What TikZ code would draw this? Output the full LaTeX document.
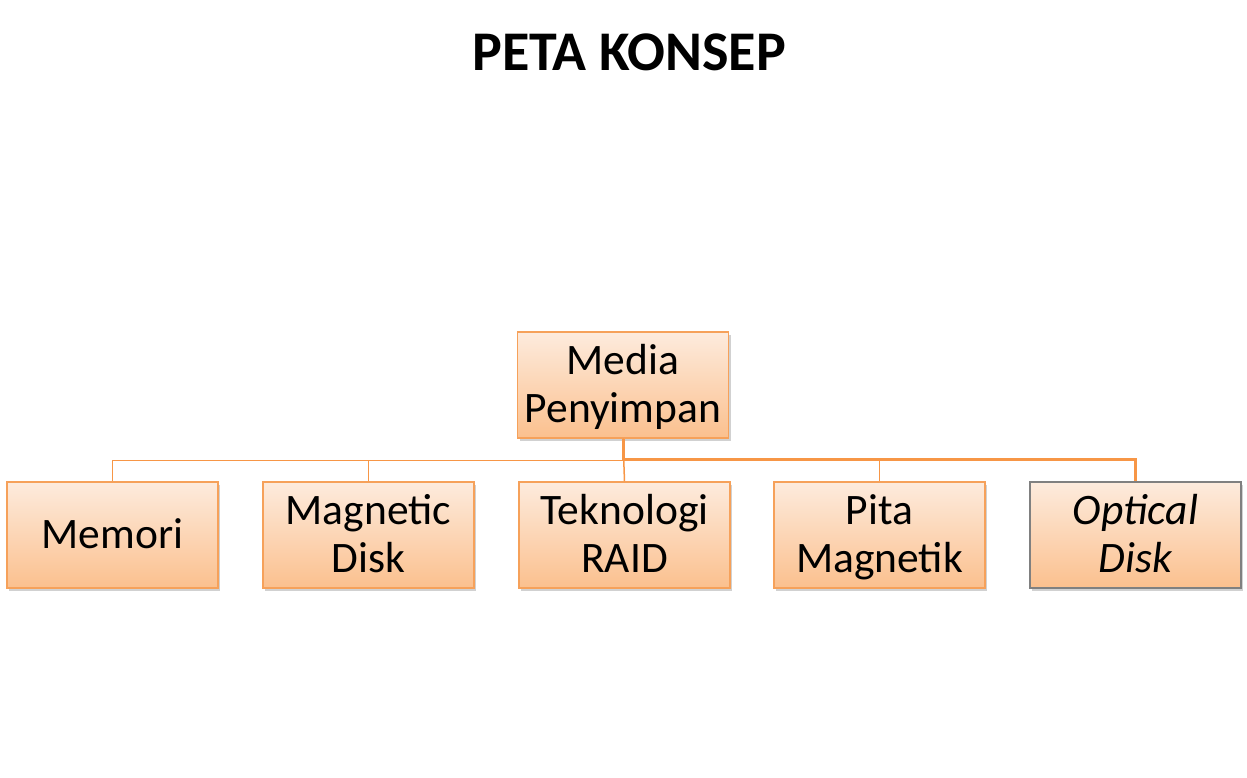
\documentclass[tikz,border=0pt]{standalone}
\usepackage{fontspec}
\setmainfont{Carlito}
\usetikzlibrary{shadows}
\definecolor{orng}{HTML}{F79646}
\definecolor{boxtop}{HTML}{FDEBDD}
\definecolor{boxbot}{HTML}{FBC08E}
\definecolor{edgeorng}{HTML}{F6A15A}
\newcommand\lstr{\rule[-10.5pt]{0pt}{48pt}}
\tikzset{
  concept/.style={draw=edgeorng, line width=1.2pt, top color=boxtop, bottom color=boxbot,
    minimum width=211pt, minimum height=106pt, align=center, inner sep=0pt,
    font=\fontsize{43.5}{48}\selectfont,
    drop shadow={shadow xshift=2pt, shadow yshift=-3pt, opacity=0.3, fill=black!60}},
  link/.style={draw=orng, line width=1.5pt},
  thicklink/.style={draw=orng, line width=3pt}
}
\begin{document}
\begin{tikzpicture}[x=1pt,y=-1pt]
\useasboundingbox (0,0) rectangle (1247,778);
\node[font=\fontsize{56}{66}\selectfont\bfseries] (title) at (629,52) {PETA KONSEP};
\node[concept] (root) at (623,385) {\lstr Media\\\lstr Penyimpan};
\node[concept] (c1) at (112.5,535) {\lstr Memori};
\node[concept] (c2) at (368.5,535) {\lstr Magnetic\\\lstr Disk};
\node[concept] (c3) at (624.5,535) {\lstr Teknologi\\\lstr RAID};
\node[concept] (c4) at (879.5,535) {\lstr Pita\\\lstr Magnetik};
\node[concept, draw=gray] (c5) at (1135.5,535) {\lstr\itshape Optical\\\lstr\itshape Disk};
\draw[link] (root.south) -- ++(0,22) -| (c1.north);
\draw[link] (root.south) -- ++(0,22) -| (c2.north);
\draw[link] (root.south) -- (c3.north);
\draw[link] (root.south) -- ++(0,22) -| (c4.north);
\draw[thicklink] (root.south) -- ++(0,21) -| (c5.north);
\end{tikzpicture}
\end{document}
